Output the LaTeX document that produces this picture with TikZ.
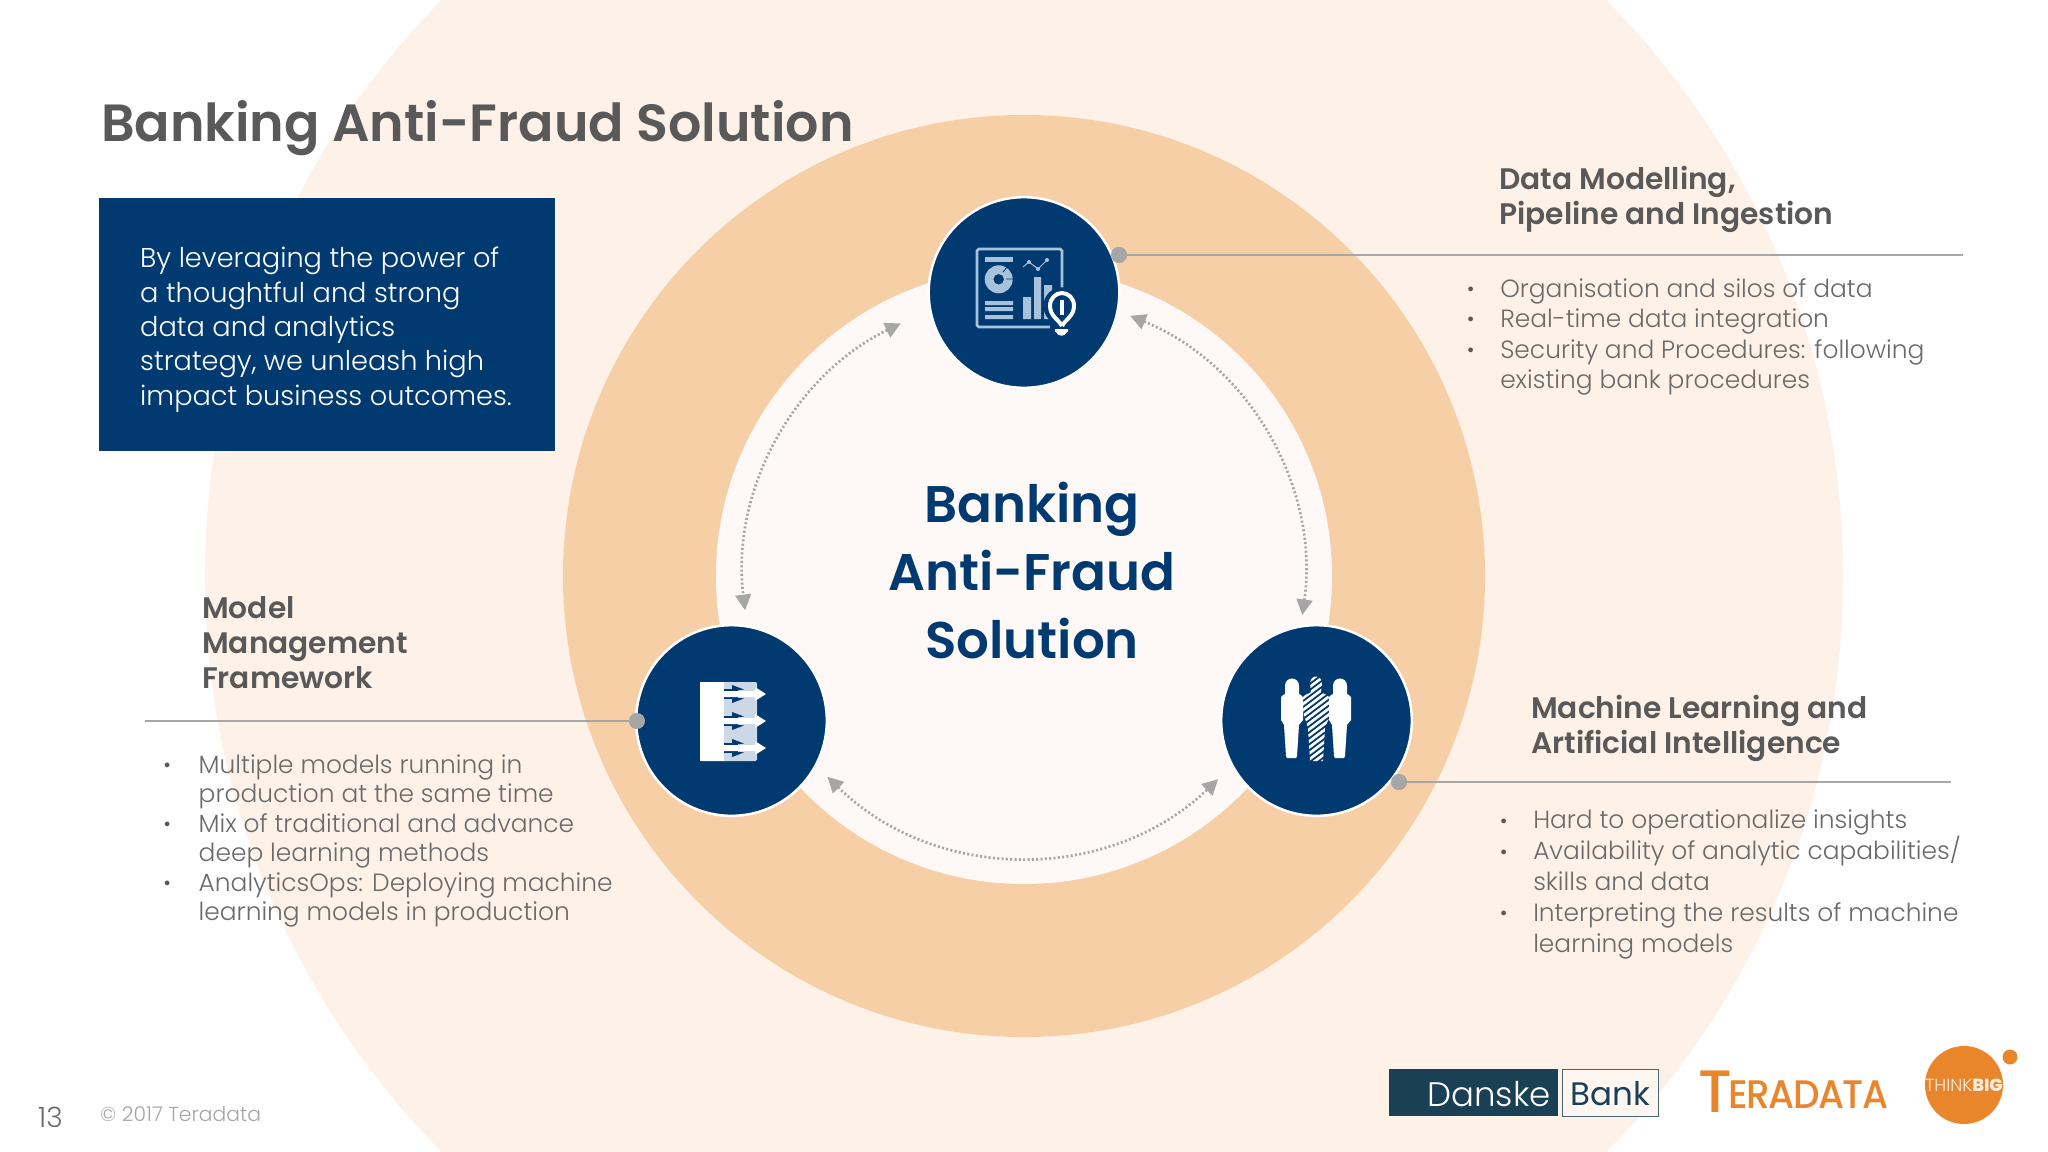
\documentclass[tikz,border=0pt]{standalone}
\usepackage{fontspec}
\usetikzlibrary{arrows.meta,calc}
\setmainfont{Poppins}
\newfontfamily\lightf{Poppins Light}
\newfontfamily\medf{Poppins Medium}
\newfontfamily\semif{Poppins SemiBold}
\newfontfamily\djf{DejaVu Sans}
\newcommand\fspx[2]{\fontsize{\dimexpr #1pt*8536/10000\relax}{\dimexpr #2pt*8536/10000\relax}\selectfont}
\newcommand\bltmark{\raisebox{1.5pt}{\color{headgrey}\djf\fontsize{14}{14}\selectfont •}}
\newcommand\blt{\llap{\bltmark\hspace{0.74cm}}}
\newcommand\bltl{\llap{\bltmark\hspace{0.8cm}}}
\definecolor{navy}{HTML}{003A70}
\definecolor{ringmid}{HTML}{F7CFA6}
\definecolor{ringpale}{HTML}{FDF1E8}
\definecolor{ringin}{HTML}{FEF9F6}
\definecolor{txtgrey}{HTML}{6A6A6A}
\definecolor{headgrey}{HTML}{595959}
\definecolor{linegrey}{HTML}{A6A6A6}
\definecolor{iconblue}{HTML}{A9C2DC}
\definecolor{iconpale}{HTML}{CCD8E5}
\definecolor{dkteal}{HTML}{1A4055}
\definecolor{tdorange}{HTML}{E9852A}
\tikzset{
  hub/.style={circle,fill=navy,draw=white,line width=2.5*0.03cm,minimum size=5.72cm,inner sep=0pt},
  leaddot/.style={circle,fill=linegrey,draw=none,minimum size=0.48cm,inner sep=0pt},
  leadline/.style={draw=linegrey,line width=0.05cm},
  cyc/.style={draw=linegrey,line width=0.08cm,dash pattern=on 0.06cm off 0.07cm,{Triangle[width=0.47cm,length=0.47cm,color=linegrey]}-{Triangle[width=0.47cm,length=0.47cm,color=linegrey]}},
  heading/.style={anchor=north west,inner sep=0pt,align=left,text=headgrey,font=\semif\fspx{29.7}{35.2}},
  bodytxt/.style={anchor=north west,inner sep=0pt,align=left,text=txtgrey,font=\lightf\fspx{24.9}{30.5}},
  icl/.style={draw=iconblue,line width=0.08cm},
  icf/.style={fill=iconblue,draw=none}
}
\begin{document}
\begin{tikzpicture}[x=0.03cm,y=-0.03cm]
\clip (0,0) rectangle (2048,1152);
\fill[white] (0,0) rectangle (2048,1152);
\coordinate (ctr) at (1024,576);
\fill[ringpale] (ctr) circle[radius=24.57cm];
\fill[ringmid] (ctr) circle[radius=13.83cm];
\fill[ringin] (ctr) circle[radius=9.24cm];

% title and box
\node[anchor=west,inner sep=0pt,text=headgrey,font=\semif\fspx{52.3}{60}] (title) at (101,128) {Banking Anti-Fraud Solution};
\node[anchor=north west,fill=navy,minimum width=13.68cm,minimum height=7.59cm,inner sep=0pt] (box) at (99,198) {};
\node[anchor=north west,inner sep=0pt,align=left,text=white,font=\lightf\fspx{27.2}{34.3}] (boxtxt) at (140,247) {By leveraging the power of\\a thoughtful and strong\\data and analytics\\strategy, we unleash high\\impact business outcomes.};

% cycle arrows
\coordinate (a1) at ($(ctr)+(116:8.43cm)$);
\coordinate (a2) at ($(ctr)+(67.8:8.43cm)$);
\coordinate (a3) at ($(ctr)+(225.6:8.43cm)$);
\draw[cyc] (a1) arc[start angle=116,end angle=187,radius=8.43cm];
\draw[cyc] (a2) arc[start angle=67.8,end angle=-8,radius=8.43cm];
\draw[cyc] (a3) arc[start angle=225.6,end angle=313.7,radius=8.43cm];

% leader lines
\node[leaddot] (dotT) at (1119,255) {};
\node[leaddot] (dotL) at (637,721) {};
\node[leaddot] (dotR) at (1399,782) {};
\coordinate (endT) at (1963,255);
\coordinate (endL) at (145,721);
\coordinate (endR) at (1951,782);
\draw[leadline] (dotT) -- (endT);
\draw[leadline] (dotL) -- (endL);
\draw[leadline] (dotR) -- (endR);

% hubs
\node[hub] (hubT) at (1024,292.5) {};
\node[hub] (hubL) at (731.5,720.5) {};
\node[hub] (hubR) at (1316.5,720.5) {};
\node[leaddot] at (dotT) {};
\node[leaddot] at (dotL) {};
\node[leaddot] at (dotR) {};

% icon: dashboard
\draw[icl,rounded corners=0.05cm] (977,249) rectangle (1062,327);
\fill[iconblue] (985,257) rectangle (1013,261.5);
\fill[iconblue,even odd rule] (998.7,279.3) circle[radius=0.42cm] (998.7,279.3) circle[radius=0.16cm];
\draw[navy,line width=0.025cm] (1003,272) -- (1008,266) (1006,279) -- (1013,279);
\fill[iconblue] (985,301) rectangle (1013,305) (985,307) rectangle (1013,311) (985,315) rectangle (1013,319);
\fill[iconblue] (1023,297) rectangle (1031,319) (1034,277) rectangle (1041,319) (1044,285) rectangle (1052,319);
\draw[iconblue,line width=0.03cm] (1023,267) -- (1029,262) -- (1038,269) -- (1047,260);
\fill[iconblue] (1029,262) circle[radius=0.06cm] (1038,269) circle[radius=0.06cm] (1047,260) circle[radius=0.06cm];
\fill[navy] (1062,306) circle[radius=0.56cm] (1050,325) rectangle (1074,340);
\draw[white,line width=0.12cm] (1062,326) .. controls (1059,320) and (1050,316) .. (1050,306) .. controls (1050,298) and (1056,293) .. (1062,293) .. controls (1068,293) and (1074,298) .. (1074,306) .. controls (1074,316) and (1065,320) .. (1062,326);
\fill[white] (1059.7,300) rectangle (1064.3,315);
\fill[white] (1055,329) rectangle (1068,332) (1056,332) .. controls (1058,337) and (1065,337) .. (1067,332) -- cycle;

% icon: stacked models
\fill[white,rounded corners=0.04cm] (700,682) rectangle (726,761);
\fill[iconpale,rounded corners=0.04cm] (722,682) rectangle (757,761);
\fill[white] (700,682) rectangle (724,761);
\foreach \yy in {694,721,748}{
  \fill[navy] (724,\yy-5) rectangle (740,\yy+5);
  \fill[iconpale] (738,\yy-5) rectangle (745,\yy+5);
  \fill[navy] (732,\yy-9) -- (744,\yy-4.5) -- (732,\yy-3) -- cycle;
  \fill[navy] (732,\yy+9) -- (744,\yy+4.5) -- (732,\yy+3) -- cycle;
  \fill[white] (724,\yy-3) -- (755,\yy-3) -- (755,\yy-7) -- (766,\yy) -- (755,\yy+7) -- (755,\yy+3) -- (724,\yy+3) -- cycle;
}

% icon: people
\def\person#1{
  (#1+0,697) .. controls (#1+1,695) and (#1+3,695) .. (#1+4,694) -- (#1+4,686) .. controls (#1+4,676) and (#1+18,676) .. (#1+18,686) -- (#1+18,694) .. controls (#1+19,695) and (#1+21,695) .. (#1+22,697) -- (#1+22,720) -- (#1+18,725) -- (#1+16,756) -- (#1+15,758) -- (#1+6,758) -- (#1+5,756) -- (#1+3,725) -- (#1+0,720) -- cycle}
\fill[white] \person{1281};
\fill[white] \person{1329};
\begin{scope}
\clip (1303,697) .. controls (1305,694) and (1309,694) .. (1311,692) -- (1310,684) .. controls (1310,674) and (1322,674) .. (1322,684) -- (1321,692) .. controls (1323,694) and (1327,694) .. (1329,697) -- (1329,718) -- (1325,728) -- (1323,761) -- (1310,761) -- (1308,728) -- (1303,712) -- cycle;
\foreach \k in {0,...,18}{
  \draw[white,line width=0.08cm] (1295,680+\k*6) -- (1335,650+\k*6);
}
\end{scope}

% centre text
\node[inner sep=0pt,align=center,text=navy,font=\semif\fspx{51.5}{68}] (centre) at (1032,570.5) {Banking\\Anti-Fraud\\Solution};

% side texts
\node[heading] (hT) at (1499,166) {Data Modelling,\\Pipeline and Ingestion};
\node[bodytxt] (bT) at (1500,278) {\blt Organisation and silos of data\\\blt Real-time data integration\\\blt Security and Procedures: following\\existing bank procedures};
\node[heading] (hL) at (202,596) {Model\\Management\\Framework};
\node[bodytxt,font=\lightf\fspx{24.9}{29.4}] (bL) at (198.5,754.5) {\bltl Multiple models running in\\production at the same time\\\bltl Mix of traditional and advance\\deep learning methods\\\bltl AnalyticsOps: Deploying machine\\learning models in production};
\node[heading] (hR) at (1531,695) {Machine Learning and\\Artificial Intelligence};
\node[bodytxt,font=\lightf\fspx{24.9}{30.8}] (bR) at (1533,810) {\blt Hard to operationalize insights\\\blt Availability of analytic capabilities/\\skills and data\\\blt Interpreting the results of machine\\learning models};

% footer
\node[anchor=west,inner sep=0pt,text=txtgrey,font=\lightf\fspx{28}{30}] (pg) at (38,1117) {13};
\node[anchor=west,inner sep=0pt,text=linegrey,font=\lightf\fspx{20.3}{24}] (copy) at (100,1114) {© 2017 Teradata};

% logos
\node[anchor=north west,fill=dkteal,minimum width=5.07cm,minimum height=1.41cm,inner sep=0pt] (dan) at (1389,1069) {};
\node[anchor=east,inner sep=0pt,text=white,font=\lightf\fspx{34}{34}] (dant) at (1551,1094) {Danske};
\node[anchor=north west,draw=dkteal!80,fill=ringpale!60,line width=0.04cm,minimum width=2.88cm,minimum height=1.41cm,inner sep=0pt] (bank) at (1562,1069) {};
\node[inner sep=0pt,text=dkteal,font=\fspx{32.5}{34}] (bankt) at (1610,1094) {Bank};
\node[anchor=base west,inner sep=0pt,text=tdorange] (tera) at (1698,1108) {\raisebox{-3.5pt}{\medf\fontsize{51}{54}\selectfont T}\hspace{-3pt}\medf\addfontfeature{LetterSpace=-4,FakeStretch=0.94}\fontsize{34}{40}\selectfont ERADATA};
\node[circle,fill=tdorange,minimum size=2.34cm,inner sep=0pt] (tb) at (1964,1085) {};
\node[circle,fill=tdorange,minimum size=0.45cm,inner sep=0pt] (tbd) at (2010,1057) {};
\node[inner sep=0pt,text=white!85!tdorange,font=\fspx{17.5}{18}] (tbt) at (1964,1085) {\lightf THINK\textbf{\medf BIG}};
\end{tikzpicture}
\end{document}
